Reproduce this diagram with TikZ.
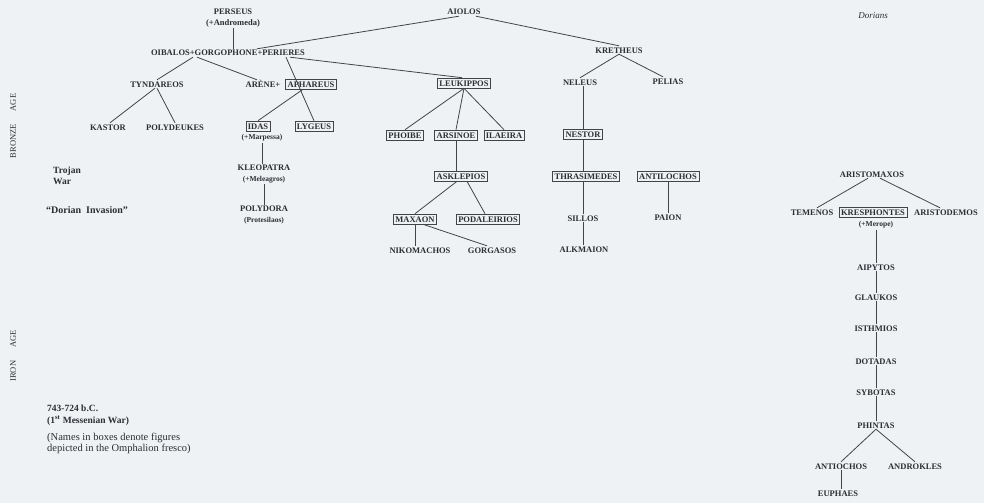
\documentclass[tikz,border=0pt]{standalone}
\usepackage{fontspec}
\setmainfont{Liberation Serif}
\definecolor{bg}{RGB}{238,242,245}
\definecolor{ink}{RGB}{45,45,50}
\definecolor{ln}{RGB}{68,68,72}
\begin{document}
\begin{tikzpicture}[x=1pt,y=-1pt,
  nm/.style={font=\fontsize{8.5}{10}\selectfont\bfseries, text=ink, inner sep=1pt, text height=6pt, text depth=0pt},
  bx/.style={nm, draw=ln, line width=0.6pt, inner xsep=2pt, inner ysep=2pt},
  pr/.style={font=\fontsize{8.5}{10.5}\selectfont\bfseries, text=ink, inner sep=1pt, align=center},
  sub/.style={font=\fontsize{7.5}{9}\selectfont\bfseries, text=ink, inner sep=1pt},
  nt/.style={font=\fontsize{9.5}{11.5}\selectfont\bfseries, text=ink, inner sep=0pt, align=left, anchor=west},
  age/.style={font=\fontsize{8.5}{10}\selectfont, text=ink, rotate=90, inner sep=0pt},
  cn/.style={draw=ln, line width=0.8pt}
]
\fill[bg] (0,0) rectangle (984,503);
\useasboundingbox (0,0) rectangle (984,503);

% age labels
\node[age] (bronze) at (13,126) {BRONZE\hspace{13pt}AGE};
\node[age] (iron) at (13,356) {IRON\hspace{13pt}AGE};

% notes
\node[nt] (trojan) at (53,176) {Trojan\\War};
\node[nt, font=\fontsize{10}{11.5}\selectfont\bfseries] (dorinv) at (46,210) {“Dorian \ Invasion”};
\node[nt] (messen) at (47,415) {743-724 b.C.\\(1\textsuperscript{st} Messenian War)};
\node[nt, font=\fontsize{10.5}{11}\selectfont] (legend) at (47,443) {(Names in boxes denote figures\\depicted in the Omphalion fresco)};
\node[font=\fontsize{9}{10}\selectfont\itshape, text=ink] (dorians) at (873,16) {Dorians};

% top
\node[pr] (perseus) at (233,18) {PERSEUS\\(+Andromeda)};
\node[nm] (aiolos) at (464,12) {AIOLOS};
\node[nm] (oib) at (228,53) {OIBALOS+GORGOPHONE+PERIERES};
\node[nm] (kretheus) at (619,50) {KRETHEUS};

% second row
\node[nm] (tyndareos) at (157,84) {TYNDAREOS};
\node[nm] (arene) at (263,84) {ARÈNE+};
\node[bx] (apha) at (311,84) {APHAREUS};
\node[bx] (leukippos) at (464,83) {LEUKIPPOS};
\node[nm] (neleus) at (580,82) {NELEUS};
\node[nm] (pelias) at (668,81) {PELIAS};

% third row
\node[nm] (kastor) at (108,127) {KASTOR};
\node[nm] (polydeukes) at (175,127) {POLYDEUKES};
\node[bx] (idas) at (258,126) {IDAS};
\node[sub] (idasN) at (262,138) {(+Marpessa)};
\node[bx] (lygeus) at (314,126) {LYGEUS};
\node[bx] (phoibe) at (405,135) {PHOIBE};
\node[bx] (arsinoe) at (456,135) {ARSINOE};
\node[bx] (ilaeira) at (504,135) {ILAEIRA};
\node[bx] (nestor) at (583,134) {NESTOR};

% fourth
\node[pr] (kleopatra) at (264,174) {KLEOPATRA\\{\fontsize{7.5}{9}\selectfont(+Meleagros)}};
\node[pr] (polydora) at (264,215) {POLYDORA\\{\fontsize{7.5}{9}\selectfont(Protesilaos)}};
\node[bx] (asklepios) at (461,176) {ASKLEPIOS};
\node[bx] (thras) at (586,176) {THRASIMEDES};
\node[bx] (antilochos) at (668,176) {ANTILOCHOS};

\node[bx] (maxaon) at (415,219) {MAXAON};
\node[bx] (podaleirios) at (488,219) {PODALEIRIOS};
\node[nm] (sillos) at (583,218) {SILLOS};
\node[nm] (paion) at (668,217) {PAION};
\node[nm] (nikomachos) at (420,250) {NIKOMACHOS};
\node[nm] (gorgasos) at (492,250) {GORGASOS};
\node[nm] (alkmaion) at (584,249) {ALKMAION};

% Dorian line
\node[nm] (aristomaxos) at (872,174) {ARISTOMAXOS};
\node[nm] (temenos) at (812,212) {TEMENOS};
\node[bx] (kres) at (873,212) {KRESPHONTES};
\node[sub] (kresN) at (876,225) {(+Merope)};
\node[nm] (aristodemos) at (946,212) {ARISTODEMOS};
\node[nm] (aipytos) at (876,267) {AIPYTOS};
\node[nm] (glaukos) at (876,297) {GLAUKOS};
\node[nm] (isthmios) at (876,328) {ISTHMIOS};
\node[nm] (dotadas) at (876,361) {DOTADAS};
\node[nm] (sybotas) at (876,392) {SYBOTAS};
\node[nm] (phintas) at (876,425) {PHINTAS};
\node[nm] (antiochos) at (841,466) {ANTIOCHOS};
\node[nm] (androkles) at (915,466) {ANDROKLES};
\node[nm] (euphaes) at (838,493) {EUPHAES};

% connectors
\draw[cn] (perseus.south) -- (perseus.south |- oib.north);
\draw[cn] ([xshift=-5pt]aiolos.south) -- ([xshift=29pt]oib.north);
\draw[cn] ([xshift=12pt]aiolos.south) -- (kretheus.north);
\draw[cn] ([xshift=-35pt]oib.south) -- (tyndareos.north);
\draw[cn] ([xshift=-31pt]oib.south) -- ([xshift=-6pt]arene.north);
\draw[cn] ([xshift=58pt]oib.south) -- (lygeus.north);
\draw[cn] ([xshift=62pt]oib.south) -- ([xshift=-2pt]leukippos.north);
\draw[cn] ([xshift=-2pt]tyndareos.south) -- ([xshift=2pt]kastor.north);
\draw[cn] (tyndareos.south) -- (polydeukes.north);
\draw[cn] ([xshift=-8pt]apha.south) -- (idas.north);
\draw[cn] (idasN.south) -- (idasN.south |- kleopatra.north);
\draw[cn] (kleopatra.south) -- (kleopatra.south |- polydora.north);
\draw[cn] (leukippos.south) -- (phoibe.north);
\draw[cn] (leukippos.south) -- (arsinoe.north);
\draw[cn] (leukippos.south) -- (ilaeira.north);
\draw[cn] (arsinoe.south) -- (arsinoe.south |- asklepios.north);
\draw[cn] ([xshift=-4pt]asklepios.south) -- (maxaon.north);
\draw[cn] ([xshift=6pt]asklepios.south) -- ([xshift=-3pt]podaleirios.north);
\draw[cn] (maxaon.south) -- (maxaon.south |- nikomachos.north);
\draw[cn] ([xshift=8pt]maxaon.south) -- ([xshift=-5pt]gorgasos.north);
\draw[cn] (kretheus.south) -- (neleus.north);
\draw[cn] (kretheus.south) -- ([xshift=-5pt]pelias.north);
\draw[cn] (nestor.north |- neleus.south) -- (nestor.north);
\draw[cn] (nestor.south) -- (nestor.south |- thras.north);
\draw[cn] (nestor.south |- thras.south) -- (nestor.south |- sillos.north);
\draw[cn] (nestor.south |- sillos.south) -- (nestor.south |- alkmaion.north);
\draw[cn] (antilochos.south) -- (antilochos.south |- paion.north);
\draw[cn] ([xshift=-4pt]aristomaxos.south) -- ([xshift=5pt]temenos.north);
\draw[cn] ([xshift=8pt]aristomaxos.south) -- ([xshift=-6pt]aristodemos.north);
\draw[cn] (kresN.south) -- (kresN.south |- aipytos.north);
\draw[cn] (aipytos.south) -- (glaukos.north);
\draw[cn] (glaukos.south) -- (isthmios.north);
\draw[cn] (isthmios.south) -- (dotadas.north);
\draw[cn] (dotadas.south) -- (sybotas.north);
\draw[cn] (sybotas.south) -- (phintas.north);
\draw[cn] (phintas.south) -- (antiochos.north);
\draw[cn] (phintas.south) -- (androkles.north);
\draw[cn] (antiochos.south) -- (antiochos.south |- euphaes.north);
\end{tikzpicture}
\end{document}
